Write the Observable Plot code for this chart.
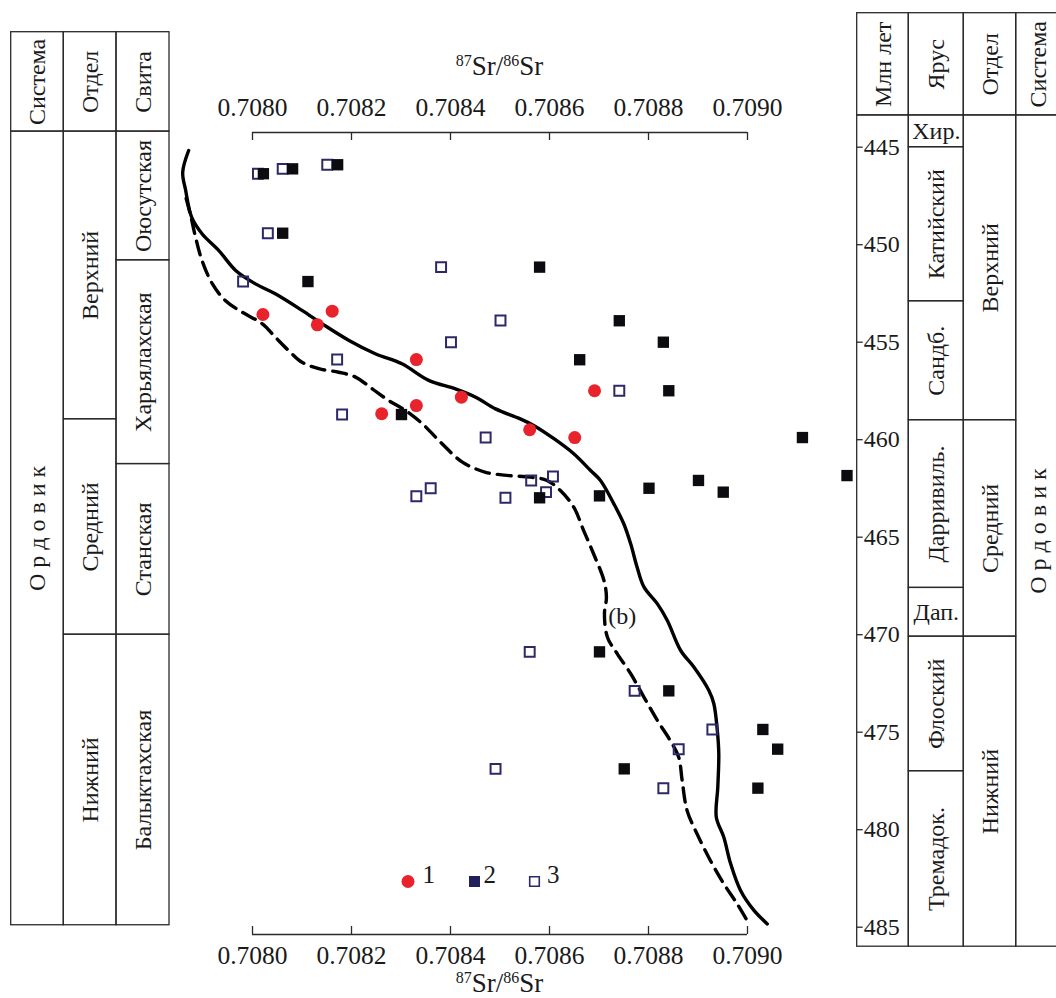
<!DOCTYPE html>
<html>
<head>
<meta charset="utf-8">
<script src="https://cdn.jsdelivr.net/npm/d3@7"></script>
<script src="https://cdn.jsdelivr.net/npm/@observablehq/plot@0.6"></script>
<style>
  body { margin: 0; background: #fff; }
  #fig { position: relative; width: 1056px; height: 998px; overflow: hidden; background: #fff; }
  #fig svg { position: absolute; top: 0; max-width: none; }
</style>
</head>
<body>
<div id="fig"></div>
<script>
// ---------- data ----------
// Reference Sr-isotope curve (solid) and its lower envelope (dashed), 87Sr/86Sr vs age, Ma
const curveSr  = [0.707871, 0.707859, 0.707865, 0.707877, 0.707898, 0.707932, 0.707966, 0.708006, 0.708046, 0.708100,
                  0.708141, 0.708195, 0.708248, 0.708302, 0.708356, 0.708410, 0.708451, 0.708491, 0.708541, 0.708568,
                  0.708609, 0.708649, 0.708683, 0.708703, 0.708730, 0.708750, 0.708764, 0.708777, 0.708791, 0.708818,
                  0.708838, 0.708865, 0.708892, 0.708922, 0.708932, 0.708939, 0.708942, 0.708940, 0.708937, 0.708952,
                  0.708966, 0.708986, 0.709013, 0.709040];
const curveAge = [445.17, 446.28, 447.22, 448.59, 449.44, 450.30, 451.32, 452.01, 452.52, 453.37,
                  454.06, 454.91, 455.59, 456.11, 456.96, 457.39, 457.82, 458.42, 458.93, 459.27,
                  459.95, 460.72, 461.58, 462.09, 463.29, 464.31, 465.34, 466.54, 467.56, 468.42,
                  469.27, 470.81, 471.67, 472.86, 473.54, 474.91, 476.11, 477.82, 479.36, 480.38,
                  481.75, 483.12, 484.14, 484.83];

const lowerSr  = [0.707866, 0.707875, 0.707885, 0.707898, 0.707919, 0.707945, 0.707979, 0.708020, 0.708046, 0.708073,
                  0.708100, 0.708134, 0.708174, 0.708208, 0.708242, 0.708275, 0.708309, 0.708343, 0.708383, 0.708424,
                  0.708471, 0.708518, 0.708562, 0.708595, 0.708622, 0.708649, 0.708669, 0.708689, 0.708710, 0.708715,
                  0.708711, 0.708717, 0.708737, 0.708764, 0.708791, 0.708818, 0.708844, 0.708861, 0.708868, 0.708878,
                  0.708898, 0.708925, 0.708952, 0.708979, 0.709003];
const lowerAge = [447.63, 448.50, 449.62, 450.81, 452.01, 452.86, 453.46, 454.06, 454.74, 455.43,
                  456.03, 456.36, 456.54, 456.79, 457.39, 457.99, 458.50, 459.18, 460.21, 461.15,
                  461.67, 461.84, 461.92, 462.09, 462.61, 463.46, 464.66, 465.85, 467.22, 468.08,
                  468.93, 470.13, 470.98, 472.00, 473.21, 474.40, 475.43, 476.28, 477.48, 479.02,
                  480.21, 481.58, 482.77, 483.80, 484.83];

// Sample group 1 (red circles)
const g1Sr  = [0.708021, 0.708131, 0.708161, 0.708331, 0.708422, 0.708331, 0.708261, 0.708560, 0.708651, 0.708691];
const g1Age = [453.58, 454.11, 453.41, 455.89, 457.82, 458.25, 458.67, 459.49, 459.89, 457.49];

// Sample group 2 (filled squares)
const g2Sr  = [0.708022, 0.708081, 0.708172, 0.708061, 0.708112, 0.708301, 0.708580, 0.708741, 0.708830, 0.708661,
               0.708841, 0.709111, 0.709201, 0.708580, 0.708701, 0.708801, 0.708901, 0.708951, 0.708701, 0.708841,
               0.709031, 0.709061, 0.708751, 0.709021];
const g2Age = [446.36, 446.11, 445.90, 449.41, 451.89, 458.71, 451.15, 453.90, 455.00, 455.90,
               457.49, 459.89, 461.84, 462.98, 462.88, 462.49, 462.09, 462.69, 470.88, 472.88,
               474.86, 475.87, 476.88, 477.87];

// Sample group 3 (open squares)
const g3Sr  = [0.708011, 0.708061, 0.708151, 0.708031, 0.707981, 0.708381, 0.708501, 0.708401, 0.708171, 0.708181,
               0.708471, 0.708741, 0.708331, 0.708360, 0.708511, 0.708563, 0.708593, 0.708607, 0.708560, 0.708772,
               0.708929, 0.708861, 0.708491, 0.708830];
const g3Age = [446.36, 446.11, 445.90, 449.41, 451.89, 451.15, 453.89, 455.00, 455.89, 458.71,
               459.89, 457.49, 462.90, 462.49, 462.98, 462.09, 462.69, 461.89, 470.88, 472.88,
               474.86, 475.87, 476.88, 477.87];

const srTicks  = [0.7080, 0.7082, 0.7084, 0.7086, 0.7088, 0.7090];
const ageTicks = [445, 450, 455, 460, 465, 470, 475, 480, 485];
const legendKeys = ["1", "2", "3"];
const curveNote = {text: "(b)", sr: 0.708747, age: 469.05};

// Local section (left column)
const leftHeaders     = ["Система", "Отдел", "Свита"];
const leftSystem      = ["О р д о в и к"];
const leftSystemAges  = [444.2, 484.9];
const leftSeries      = ["Верхний", "Средний", "Нижний"];
const leftSeriesAges  = [444.2, 458.95, 470.0, 484.9];
const formations      = ["Оюсутская", "Харьялахская", "Станская", "Балыктахская"];
const formationAges   = [444.2, 450.8, 461.25, 470.0, 484.9];

// Geological time scale (right column)
const rightHeaders    = ["Млн лет", "Ярус", "Отдел", "Система"];
const stages          = ["Хир.", "Катийский", "Сандб.", "Дарривиль.", "Дап.", "Флоский", "Тремадок."];
const stageAges       = [443.37, 445.0, 452.9, 459.0, 467.6, 470.1, 477.0, 486.0];
const uprightStages   = ["Хир.", "Дап."];
const rightSeries     = ["Верхний", "Средний", "Нижний"];
const rightSeriesAges = [443.37, 459.0, 470.1, 486.0];
const rightSystem     = ["О р д о в и к"];
const rightSystemAges = [443.37, 486.0];

// ---------- layout & style ----------
const H = 998;
const PX_PER_MA = 19.5, REF_AGE = 445, REF_PX = 146.7;     // shared vertical age scale
const ageAt = px => REF_AGE + (px - REF_PX) / PX_PER_MA;
const FONT = "'Liberation Serif', 'Times New Roman', serif";
const INK = "#1a1a1a", RULE = "#2a2a2a";
const RED = "#e8232b", BLACK = "#0b0b10", NAVY = "#2c2968", NAVY_FILL = "#22205a";

const fig = document.getElementById("fig");

// ---------- stratigraphic tables ----------
function cellsOf(labels, bounds, col, edges) {
  return labels.map((label, i) => ({label, x1: edges[col], x2: edges[col + 1], y1: bounds[i], y2: bounds[i + 1]}));
}

function tablePlot(width, cells, extra = []) {
  return Plot.plot({
    width, height: H, margin: 0,
    x: {domain: [0, width], range: [0, width], axis: null},
    y: {domain: [ageAt(0), ageAt(H)], range: [0, H], axis: null},
    style: {fontFamily: FONT, background: "transparent", color: INK},
    marks: [
      Plot.rect(cells, {x1: "x1", x2: "x2", y1: "y1", y2: "y2", fill: "none", stroke: RULE, strokeWidth: 1.3}),
      Plot.text(cells.filter(d => d.label && !d.upright), {
        x: d => (d.x1 + d.x2) / 2, y: d => (d.y1 + d.y2) / 2, text: "label",
        rotate: -90, fontSize: 24, fontFamily: FONT, fill: INK
      }),
      Plot.text(cells.filter(d => d.label && d.upright), {
        x: d => (d.x1 + d.x2) / 2, y: d => (d.y1 + d.y2) / 2, text: "label",
        fontSize: 24, fontFamily: FONT, fill: INK
      }),
      ...extra
    ]
  });
}

// left table
const LEFT_X = 0, LEFT_W = 175, leftEdges = [10.7, 63.3, 116, 169], leftHeadTop = ageAt(31.7);
const leftCells = [
  ...leftHeaders.map((label, i) => ({label, x1: leftEdges[i], x2: leftEdges[i + 1], y1: leftHeadTop, y2: leftSystemAges[0]})),
  ...cellsOf(leftSystem, leftSystemAges, 0, leftEdges),
  ...cellsOf(leftSeries, leftSeriesAges, 1, leftEdges),
  ...cellsOf(formations, formationAges, 2, leftEdges)
];
const leftSvg = tablePlot(LEFT_W, leftCells);
leftSvg.style.left = LEFT_X + "px";
fig.appendChild(leftSvg);

// right table (its last column runs past the page edge)
const RIGHT_X = 855, RIGHT_W = 201, rightEdges = [1.7, 53.3, 108.3, 160.7, 205], rightHeadTop = ageAt(12.7);
const rightCells = [
  ...rightHeaders.map((label, i) => ({label, x1: rightEdges[i], x2: rightEdges[i + 1], y1: rightHeadTop, y2: stageAges[0]})),
  ...cellsOf([""], [stageAges[0], stageAges[stageAges.length - 1]], 0, rightEdges),
  ...cellsOf(stages, stageAges, 1, rightEdges).map(d => ({...d, upright: uprightStages.includes(d.label)})),
  ...cellsOf(rightSeries, rightSeriesAges, 2, rightEdges),
  ...cellsOf(rightSystem, rightSystemAges, 3, rightEdges)
];
const TICK = 6;
const rightSvg = tablePlot(RIGHT_W, rightCells, [
  Plot.ruleY(ageTicks, {y: d => d, x1: rightEdges[0], x2: rightEdges[0] + TICK, stroke: RULE, strokeWidth: 1.3}),
  Plot.text(ageTicks, {y: d => d, x: rightEdges[0] + TICK + 0.5, text: d => String(d), textAnchor: "start",
                       fontSize: 24, fontFamily: FONT, fill: INK})
]);
rightSvg.style.left = RIGHT_X + "px";
fig.appendChild(rightSvg);

// ---------- Sr-isotope chart ----------
const MAIN_X = 175, MAIN_W = 680;
const mLeft = 252 - MAIN_X, mRight = MAIN_X + MAIN_W - 747, mTop = 132, mBottom = 64;
const yTop = ageAt(mTop), yBot = ageAt(H - mBottom);
const AXIS_TICK = 8 / PX_PER_MA;
const fmt = d3.format(".4f");

const curve = curveSr.map((sr, i) => ({sr, age: curveAge[i]}));
const lower = lowerSr.map((sr, i) => ({sr, age: lowerAge[i]}));
const g1 = g1Sr.map((sr, i) => ({sr, age: g1Age[i]}));
const g2 = g2Sr.map((sr, i) => ({sr, age: g2Age[i]}));
const g3 = g3Sr.map((sr, i) => ({sr, age: g3Age[i]}));

// legend offsets from the bottom-centre of the frame
const legendDot = [-92, -25.5, 34.5], legendText = [-77.5, -16.5, 47], LEGEND_DY = -53;

const main = Plot.plot({
  width: MAIN_W, height: H,
  marginLeft: mLeft, marginRight: mRight, marginTop: mTop, marginBottom: mBottom,
  x: {domain: [srTicks[0], srTicks[srTicks.length - 1]], axis: null},
  y: {domain: [yTop, yBot], reverse: true, axis: null},
  style: {fontFamily: FONT, background: "transparent", color: INK, overflow: "visible"},
  marks: [
    // top and bottom axes
    Plot.ruleY([yTop], {x1: srTicks[0], x2: srTicks[srTicks.length - 1], stroke: RULE, strokeWidth: 1.3}),
    Plot.ruleY([yBot], {x1: srTicks[0], x2: srTicks[srTicks.length - 1], stroke: RULE, strokeWidth: 1.3}),
    Plot.ruleX(srTicks, {x: d => d, y1: yTop, y2: yTop + AXIS_TICK, stroke: RULE, strokeWidth: 1.3}),
    Plot.ruleX(srTicks, {x: d => d, y1: yBot, y2: yBot - AXIS_TICK, stroke: RULE, strokeWidth: 1.3}),
    Plot.text(srTicks, {x: d => d, frameAnchor: "top", dy: -17, lineAnchor: "bottom", text: d => fmt(d),
                        fontSize: 25.5, fontFamily: FONT, fill: INK}),
    Plot.text(srTicks, {x: d => d, frameAnchor: "bottom", dy: 11, lineAnchor: "top", text: d => fmt(d),
                        fontSize: 25.5, fontFamily: FONT, fill: INK}),

    // curves
    Plot.line(curve, {x: "sr", y: "age", curve: "catmull-rom", stroke: "#000", strokeWidth: 3.4}),
    Plot.line(lower, {x: "sr", y: "age", curve: "catmull-rom", stroke: "#000", strokeWidth: 3.4, strokeDasharray: "14,8"}),
    Plot.text([curveNote], {x: "sr", y: "age", text: "text", fontSize: 24, fontFamily: FONT, fill: INK}),

    // samples
    Plot.dot(g3, {x: "sr", y: "age", symbol: "square", r: 5.6, fill: "none", stroke: NAVY, strokeWidth: 2}),
    Plot.dot(g2, {x: "sr", y: "age", symbol: "square", r: 6.4, fill: BLACK, stroke: "none"}),
    Plot.dot(g1, {x: "sr", y: "age", r: 6.5, fill: RED, stroke: "none"}),

    // legend
    Plot.dot([0], {x: null, y: null, frameAnchor: "bottom", dx: legendDot[0], dy: LEGEND_DY, r: 6.5, fill: RED, stroke: "none"}),
    Plot.dot([0], {x: null, y: null, frameAnchor: "bottom", dx: legendDot[1], dy: LEGEND_DY, symbol: "square", r: 6.2, fill: NAVY_FILL, stroke: "none"}),
    Plot.dot([0], {x: null, y: null, frameAnchor: "bottom", dx: legendDot[2], dy: LEGEND_DY, symbol: "square", r: 5.4, fill: "none", stroke: NAVY, strokeWidth: 1.6}),
    ...legendKeys.map((k, i) => Plot.text([k], {frameAnchor: "bottom", dx: legendText[i], dy: LEGEND_DY + 1,
                                                textAnchor: "start", fontSize: 25, fontFamily: FONT, fill: INK}))
  ]
});
main.style.left = MAIN_X + "px";
fig.appendChild(main);

// axis titles with superscript mass numbers
const xMid = main.scale("x").apply((srTicks[0] + srTicks[srTicks.length - 1]) / 2);
function ratioTitle(baseline) {
  const t = d3.select(main).append("text")
    .attr("x", xMid).attr("y", baseline).attr("text-anchor", "middle")
    .attr("font-family", FONT).attr("font-size", 27).attr("fill", INK);
  t.append("tspan").attr("font-size", 16).attr("dy", -9).text("87");
  t.append("tspan").attr("dy", 9).text("Sr/");
  t.append("tspan").attr("font-size", 16).attr("dy", -9).text("86");
  t.append("tspan").attr("dy", 9).text("Sr");
}
ratioTitle(75);
ratioTitle(992);
</script>
</body>
</html>
